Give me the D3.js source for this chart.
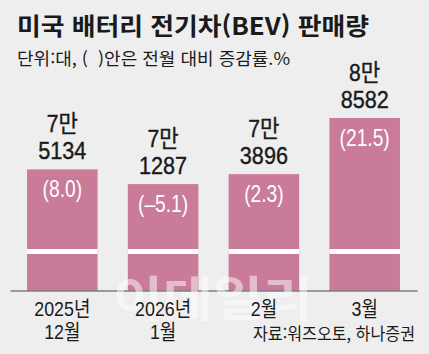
<!DOCTYPE html>
<html lang="ko">
<head>
    <meta charset="UTF-8">
    <title>미국 배터리 전기차(BEV) 판매량</title>
    <script src="https://d3js.org/d3.v7.min.js"></script>
    <style>
        body { margin: 0; background: #eeeeee; }
        text { font-family: "Liberation Sans", "Noto Sans CJK KR", sans-serif; }
    </style>
</head>
<body>
    <div id="my_dataviz"></div>
    <script>
        // data
        const months = ["2025년|12월", "2026년|1월", "2월", "3월"];
        const sales = [75134, 71287, 73896, 88582];
        const changes = [8.0, -5.1, 2.3, 21.5];

        const width = 429, height = 354;
        const baseY = 290.5, breakTop = 249, breakGap = 5;

        // squeeze text horizontally, the source uses a condensed gothic
        function condense(sel, k) {
            sel.each(function () {
                const len = this.getComputedTextLength();
                d3.select(this).attr("textLength", len * k).attr("lengthAdjust", "spacingAndGlyphs");
            });
        }

        const svg = d3.select("#my_dataviz")
            .append("svg")
            .attr("width", width)
            .attr("height", height)
            .style("display", "block");

        svg.append("rect").attr("width", width).attr("height", height).attr("fill", "#eeeeee");

        // title + unit line
        svg.append("text")
            .attr("x", 17).attr("y", 35)
            .attr("textLength", 352).attr("lengthAdjust", "spacingAndGlyphs")
            .style("font-family", "'Noto Sans CJK KR', sans-serif")
            .style("font-size", "24px").style("font-weight", "bold")
            .attr("fill", "#1a1a1a")
            .text("미국 배터리 전기차(BEV) 판매량");

        svg.append("text")
            .attr("x", 17).attr("y", 65)
            .attr("textLength", 273).attr("lengthAdjust", "spacingAndGlyphs")
            .style("font-family", "'Noto Sans CJK KR', sans-serif")
            .style("font-size", "17px")
            .style("white-space", "pre")
            .attr("fill", "#1a1a1a")
            .text("단위:대, (  )안은 전월 대비 증감률.%");

        // scales (broken axis: only the upper part is to scale)
        const x = d3.scaleBand()
            .domain(months)
            .range([10, 417])
            .paddingInner(0.3)
            .paddingOuter(0.169);

        const y = d3.scaleLinear()
            .domain([54300, 88582])
            .range([breakTop, 118]);

        const bars = svg.append("g")
            .selectAll("g")
            .data(months)
            .join("g");

        bars.append("rect")
            .attr("x", d => x(d))
            .attr("width", x.bandwidth())
            .attr("y", (d, i) => y(sales[i]))
            .attr("height", (d, i) => baseY - y(sales[i]))
            .attr("fill", "#c97b99");

        // break gap
        bars.append("rect")
            .attr("x", d => x(d))
            .attr("width", x.bandwidth())
            .attr("y", breakTop)
            .attr("height", breakGap)
            .attr("fill", "#ffffff");

        // value labels above bars: "7만" / "5134"
        bars.append("text")
            .attr("text-anchor", "middle")
            .attr("x", d => x(d) + x.bandwidth() / 2)
            .attr("y", (d, i) => y(sales[i]) - 37)
            .style("font-size", "24px")
            .attr("fill", "#1a1a1a")
            .attr("stroke", "#1a1a1a").attr("stroke-width", 0.4)
            .text((d, i) => Math.floor(sales[i] / 10000) + "만")
            .call(condense, 0.88);

        bars.append("text")
            .attr("text-anchor", "middle")
            .attr("x", d => x(d) + x.bandwidth() / 2)
            .attr("y", (d, i) => y(sales[i]) - 10)
            .style("font-size", "24px")
            .attr("fill", "#1a1a1a")
            .attr("stroke", "#1a1a1a").attr("stroke-width", 0.4)
            .text((d, i) => String(sales[i] % 10000).padStart(4, "0"))
            .call(condense, 0.9);

        // change rate inside bars
        bars.append("text")
            .attr("text-anchor", "middle")
            .attr("x", d => x(d) + x.bandwidth() / 2)
            .attr("y", (d, i) => y(sales[i]) + 28)
            .style("font-size", "24px")
            .attr("fill", "#ffffff")
            .text((d, i) => "(" + (changes[i] < 0 ? "–" : "") + Math.abs(changes[i]).toFixed(1) + ")")
            .call(condense, 0.8);

        // axis line
        svg.append("g")
            .attr("transform", `translate(0,${baseY})`)
            .call(d3.axisBottom(x).tickSize(0).tickFormat(""))
            .call(g => g.select(".domain").attr("stroke", "#444").attr("stroke-width", 1.2));

        // watermark
        svg.append("text")
            .attr("x", 213).attr("y", 316)
            .attr("text-anchor", "middle")
            .attr("textLength", 200).attr("lengthAdjust", "spacingAndGlyphs")
            .style("font-family", "'Noto Sans CJK KR', sans-serif")
            .style("font-size", "48px").style("font-weight", "bold")
            .attr("fill", "#ffffff").attr("opacity", 0.5)
            .text("이데일리");

        // x labels
        const xl = svg.append("g")
            .selectAll("text")
            .data(months)
            .join("text")
            .attr("text-anchor", "middle")
            .attr("y", 316)
            .style("font-size", "21px")
            .attr("fill", "#1a1a1a");

        xl.selectAll("tspan")
            .data(d => d.split("|").map(s => ({ s, d })))
            .join("tspan")
            .attr("x", o => x(o.d) + x.bandwidth() / 2)
            .attr("dy", (o, i) => i === 0 ? 0 : 23)
            .text(o => o.s)
            .call(condense, 0.85);

        // source
        svg.append("text")
            .attr("x", 415).attr("y", 340)
            .attr("text-anchor", "end")
            .attr("textLength", 162).attr("lengthAdjust", "spacingAndGlyphs")
            .style("font-family", "'Noto Sans CJK KR', sans-serif")
            .style("font-size", "17px")
            .attr("fill", "#1a1a1a")
            .text("자료:워즈오토, 하나증권");
    </script>
</body>
</html>
